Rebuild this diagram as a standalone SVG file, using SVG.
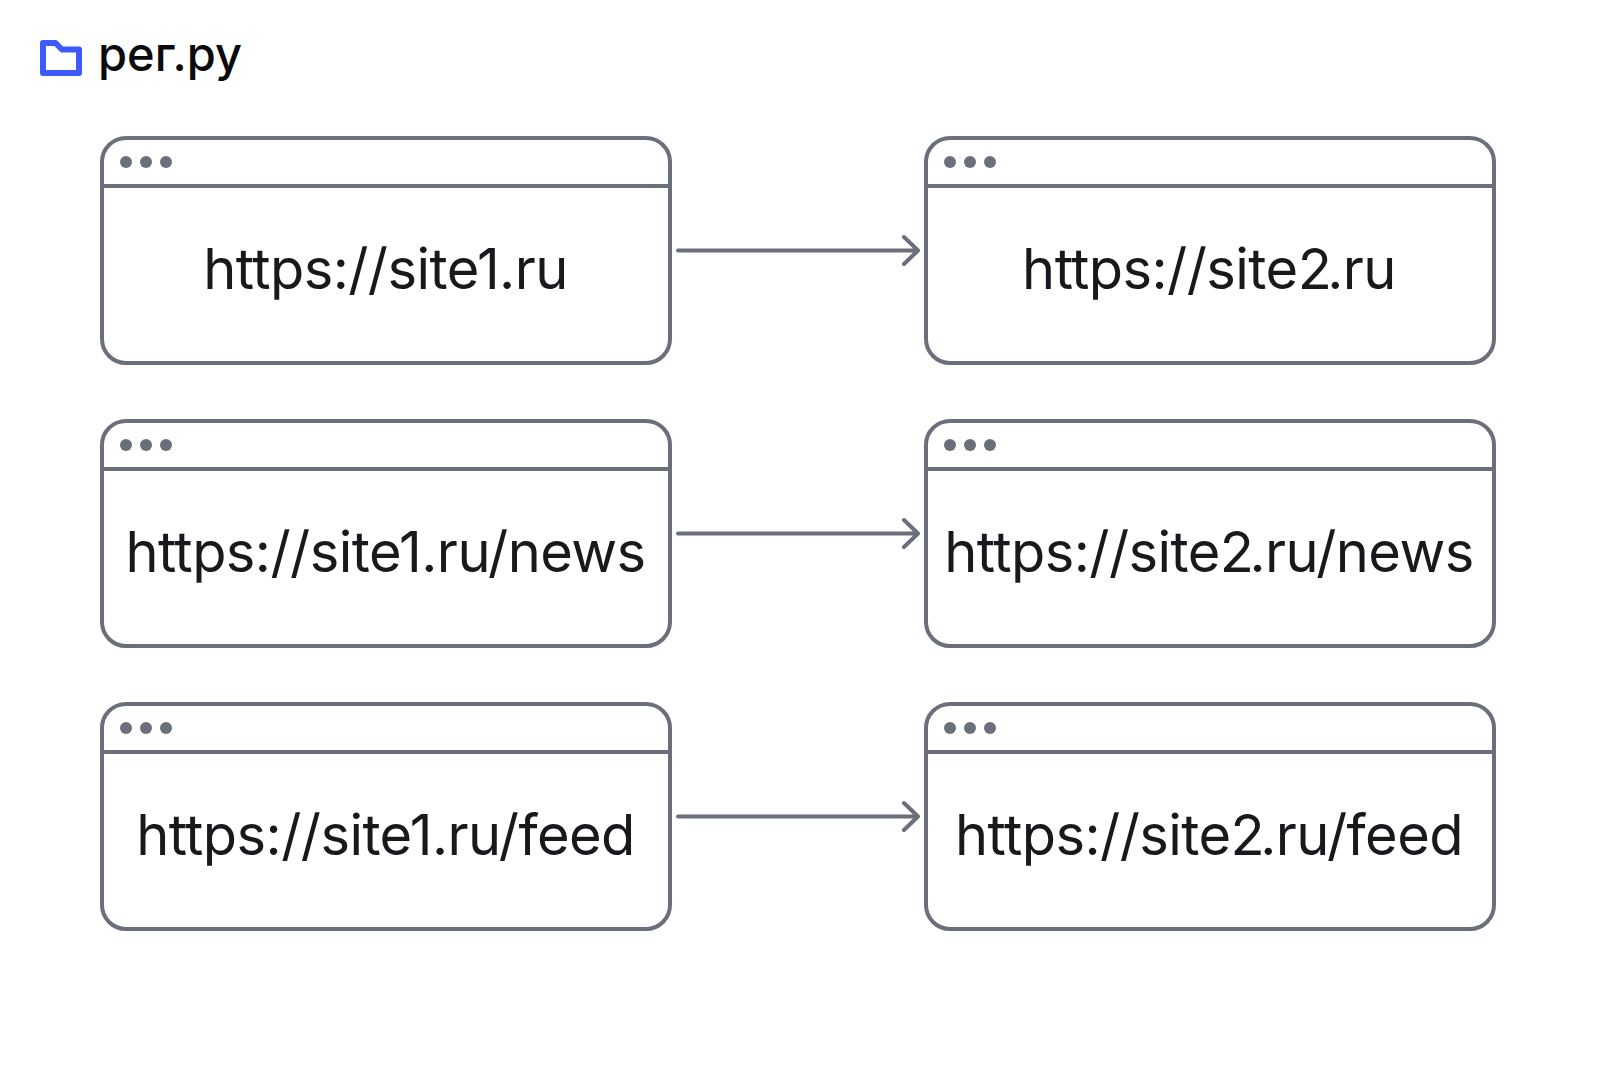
<svg xmlns="http://www.w3.org/2000/svg" width="1600" height="1067" viewBox="0 0 1600 1067">
<style>
.frame{fill:none;stroke:#6a6f7a;stroke-width:4}
.dot{fill:#6a6f7a}
.url{font-family:Inter,"Liberation Sans",sans-serif;font-size:56px;letter-spacing:-0.56px;fill:#18191d;text-anchor:middle}
.two{letter-spacing:-4.6px}
.link{fill:none;stroke:#6a6f7a;stroke-width:4;stroke-linecap:round;stroke-linejoin:round}
</style>
<defs>
<g id="window">
<rect class="frame" x="0" y="0" width="568" height="225" rx="24"/>
<path class="frame" d="M0 48H568"/>
<circle class="dot" cx="24" cy="24" r="6"/>
<circle class="dot" cx="44" cy="24" r="6"/>
<circle class="dot" cx="64" cy="24" r="6"/>
</g>
</defs>
<rect width="1600" height="1067" fill="#fff"/>
<g id="logo">
<path d="M43 43H55.500L62 49.500H79V73H43Z" fill="none" stroke="#3d5afe" stroke-width="6" stroke-linejoin="round"/>
<text x="98" y="71" font-family="Inter,'Noto Sans',sans-serif" font-size="47" font-weight="500" fill="#0b0b0d">рег.ру</text>
</g>
<g id="site1"><use href="#window" x="102" y="138"/><text class="url" x="385.500" y="289">https://site1.ru</text></g>
<g id="site2"><use href="#window" x="926" y="138"/><text class="url" x="1209" y="289">https://site<tspan class="two">2</tspan>.ru</text></g>
<g id="site1-news"><use href="#window" x="102" y="421"/><text class="url" x="385.500" y="572">https://site1.ru/news</text></g>
<g id="site2-news"><use href="#window" x="926" y="421"/><text class="url" x="1209" y="572">https://site<tspan class="two">2</tspan>.ru/news</text></g>
<g id="site1-feed"><use href="#window" x="102" y="704"/><text class="url" x="385.500" y="855">https://site1.ru/feed</text></g>
<g id="site2-feed"><use href="#window" x="926" y="704"/><text class="url" x="1209" y="855">https://site<tspan class="two">2</tspan>.ru/feed</text></g>
<g id="connectors">
<path class="link" d="M678 250.500H918M904 237L918 250.500L904 264"/>
<path class="link" d="M678 533.500H918M904 520L918 533.500L904 547"/>
<path class="link" d="M678 816.500H918M904 803L918 816.500L904 830"/>
</g>
</svg>
